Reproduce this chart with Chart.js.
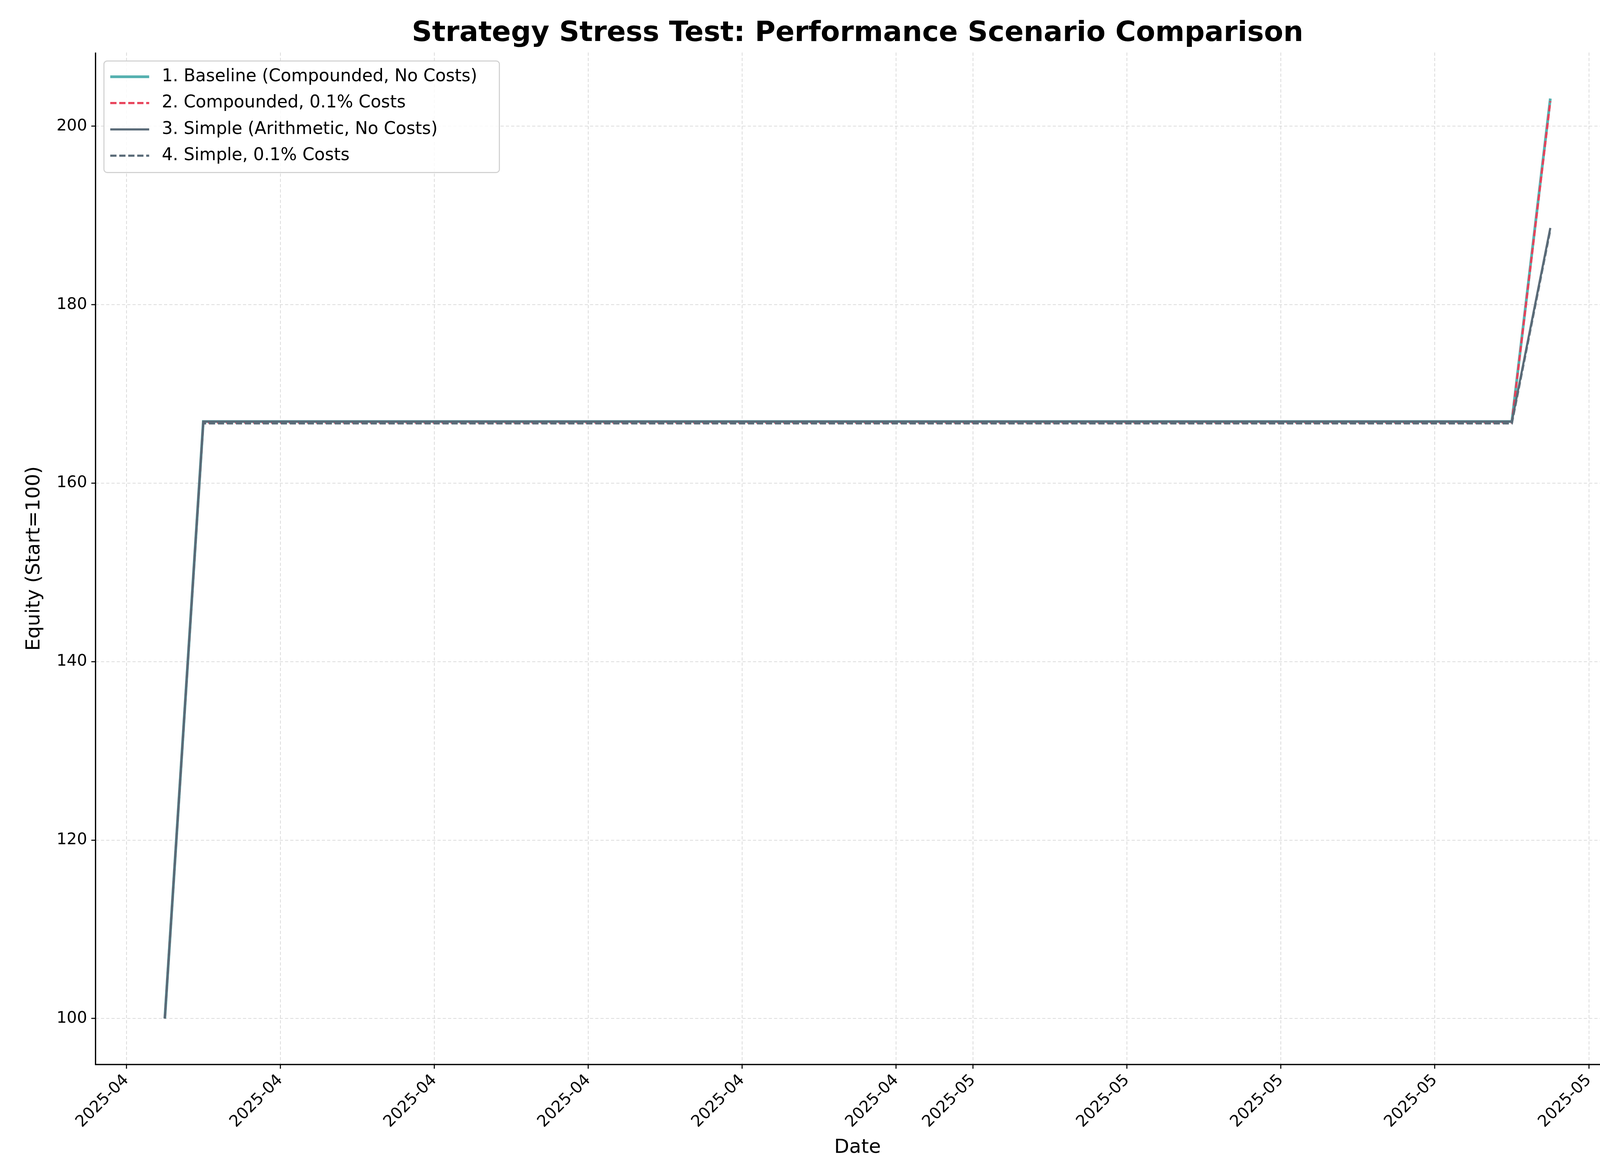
<!DOCTYPE html>
<html><head><meta charset="utf-8">
<script src="https://cdn.jsdelivr.net/npm/chart.js@4"></script>
<style>html,body{margin:0;padding:0;background:#fff}#wrap{width:4200px;height:3000px}</style>
</head><body><div id="wrap"><canvas id="c"></canvas></div>
<script>
// day offset from 2025-04-01 (Apr 10 .. May 16)
const days = [];
for (let d = 9; d <= 45; d++) days.push(d);
const flatLen = days.length - 3;
const baseline   = [100].concat(Array(flatLen + 1).fill(166.9), [203.1]);
const compCosts  = [100].concat(Array(flatLen + 1).fill(166.8), [202.8]);
const simple     = [100].concat(Array(flatLen + 1).fill(166.9), [188.6]);
const simpleCost = [100].concat(Array(flatLen + 1).fill(166.7), [188.4]);
const xTicks = [8, 12, 16, 20, 24, 28, 30, 34, 38, 42, 46];
const yTicks = [100, 120, 140, 160, 180, 200];
const seriesNames = ['1. Baseline (Compounded, No Costs)', '2. Compounded, 0.1% Costs',
                     '3. Simple (Arithmetic, No Costs)', '4. Simple, 0.1% Costs'];

const S = 4200 / 1560;
const FONT = 'DejaVu Sans';
function pts(vals){ return days.map((d,i)=>({x:d, y:vals[i]})); }

const styles = [
  {c:'#56b1b0', w:7, dash:[]},
  {c:'#e8425a', w:5.5, dash:[16,7]},
  {c:'#5a6b78', w:5.5, dash:[]},
  {c:'#5a6b78', w:5.5, dash:[16,7]},
];
const datasets = [baseline, compCosts, simple, simpleCost].map((v,i)=>({
  label: seriesNames[i], data: pts(v), borderColor: styles[i].c, order: 4 - i,
  borderWidth: styles[i].w, borderDash: styles[i].dash, pointRadius: 0, tension: 0, fill:false
}));

const overlay = {
  id:'overlay',
  afterDraw(chart){
    const ctx = chart.ctx, a = chart.chartArea;
    ctx.save();
    // title
    ctx.fillStyle = '#000';
    ctx.font = 'bold 72px ' + FONT;
    ctx.textAlign = 'center'; ctx.textBaseline = 'middle';
    ctx.fillText('Strategy Stress Test: Performance Scenario Comparison', (a.left+a.right)/2, 32*S);
    // spines
    ctx.strokeStyle = '#000'; ctx.lineWidth = 1.2*S;
    ctx.beginPath(); ctx.moveTo(a.left, a.top); ctx.lineTo(a.left, a.bottom); ctx.lineTo(a.right, a.bottom); ctx.stroke();
    // legend
    const lx = a.left + 8*S, ly = a.top + 8*S, lw = 376*S, lh = 106*S;
    ctx.fillStyle = 'rgba(255,255,255,0.85)';
    ctx.strokeStyle = '#d0d0d0'; ctx.lineWidth = 1*S;
    ctx.beginPath(); ctx.roundRect(lx, ly, lw, lh, 3*S); ctx.fill(); ctx.stroke();
    ctx.font = '44px ' + FONT;
    ctx.textAlign = 'left';
    seriesNames.forEach((n,i)=>{
      const y = ly + 15*S + i*25*S;
      ctx.strokeStyle = styles[i].c; ctx.lineWidth = styles[i].w;
      ctx.setLineDash(styles[i].dash); ctx.lineCap = 'butt';
      ctx.beginPath(); ctx.moveTo(lx + 6*S, y); ctx.lineTo(lx + 43*S, y); ctx.stroke();
      ctx.setLineDash([]);
      ctx.fillStyle = '#000';
      ctx.fillText(n, lx + 55*S, y);
    });
    ctx.restore();
  }
};

new Chart(document.getElementById('c'), {
  type: 'line',
  data: { datasets },
  options: {
    responsive: true, maintainAspectRatio: false, animation: false,
    layout: { padding: { top: 50*S, right: 20*S, left: 20*S, bottom: 8*S } },
    plugins: { legend: { display: false }, tooltip: { enabled: false }, title: { display: false } },
    scales: {
      x: {
        type: 'linear', min: 7.2, max: 46.8,
        afterBuildTicks(ax){ ax.ticks = xTicks.map(v=>({value:v})); },
        ticks: { color:'#000', font:{family:FONT, size:41}, maxRotation:45, minRotation:45,
                 callback: v => v < 30 ? '2025-04' : '2025-05', padding: 2*S },
        grid: { color:'#d2d2d2', lineWidth:0.6*S, tickColor:'#000', tickLength:4*S, tickWidth:1*S, drawTicks:true },
        border: { display:false, dash:[3*S,2*S] },
        title: { display:true, text:'Date', color:'#000', font:{family:FONT, size:50}, padding:{top:2*S,bottom:4*S} }
      },
      y: {
        min: 94.85, max: 208.25,
        afterBuildTicks(ax){ ax.ticks = yTicks.map(v=>({value:v})); },
        ticks: { color:'#000', font:{family:FONT, size:41}, padding: 4*S },
        grid: { color:'#d2d2d2', lineWidth:0.6*S, tickColor:'#000', tickLength:4*S, tickWidth:1*S },
        border: { display:false, dash:[3*S,2*S] },
        title: { display:true, text:'Equity (Start=100)', color:'#000', font:{family:FONT, size:50}, padding:{bottom:6*S} }
      }
    }
  },
  plugins: [overlay]
});
</script></body></html>
